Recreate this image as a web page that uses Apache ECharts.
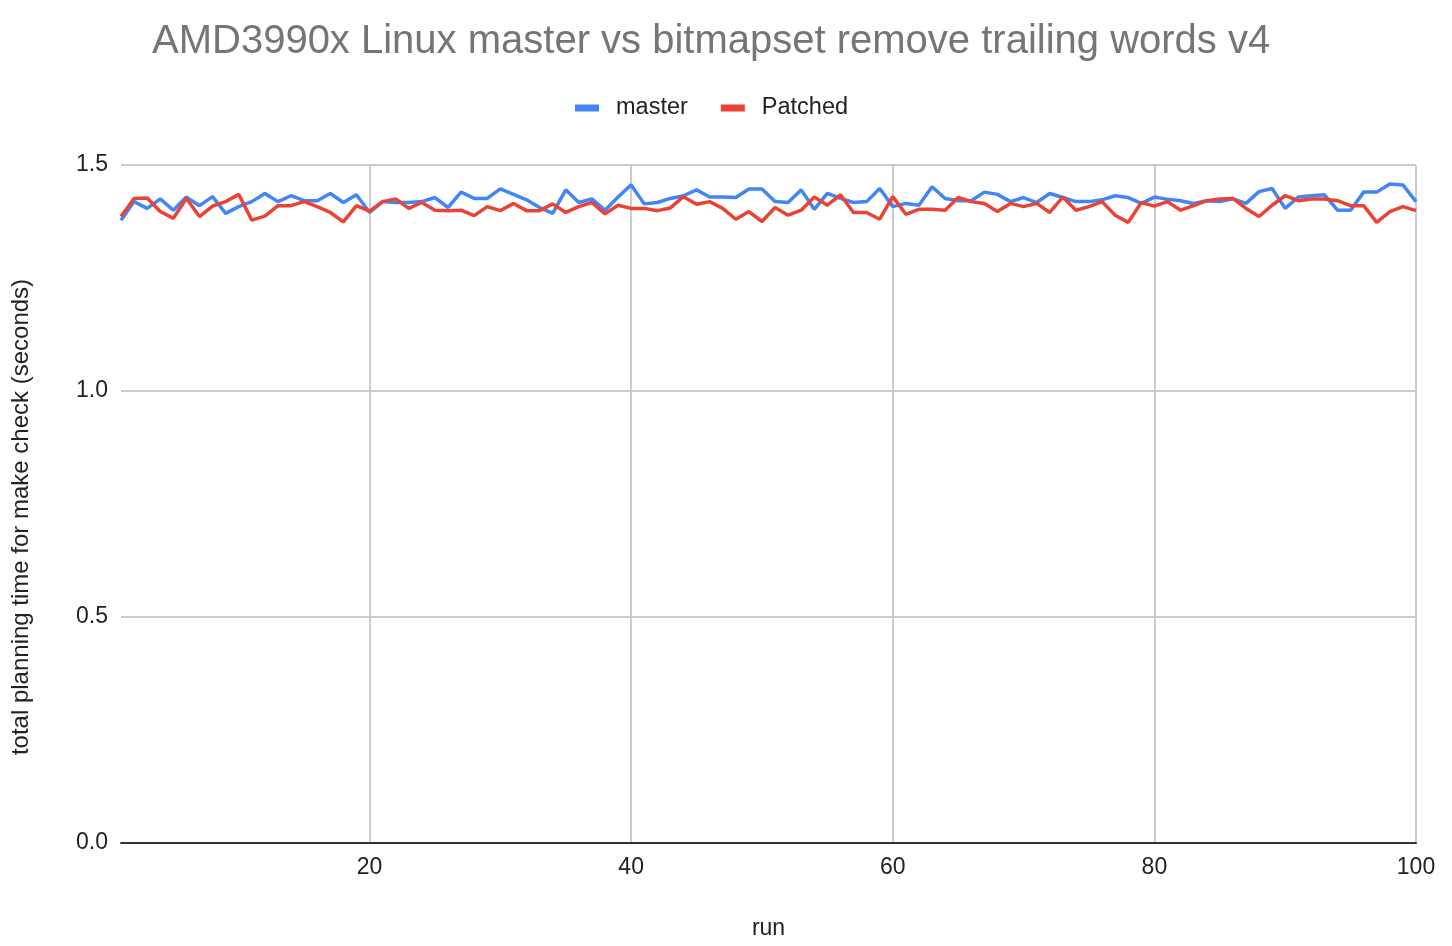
<!DOCTYPE html>
<html>
<head>
<meta charset="utf-8">
<script src="https://cdn.jsdelivr.net/npm/echarts@6/dist/echarts.min.js"></script>
<style>
html,body{margin:0;padding:0;background:#fff;}
#chart{width:1452px;height:946px;}
</style>
</head>
<body>
<div id="chart"></div>
<script>
const titleText = 'AMD3990x Linux master vs bitmapset remove trailing words v4';
const seriesNames = ['master', 'Patched'];
const runs = [];
for (let i = 1; i <= 100; i++) runs.push(String(i));
const yTicks = [0, 0.5, 1.0, 1.5];

const master = [
  1.378, 1.419, 1.404, 1.425, 1.400, 1.429, 1.410, 1.430, 1.393, 1.408,
  1.419, 1.437, 1.419, 1.432, 1.421, 1.421, 1.437, 1.417, 1.434, 1.395,
  1.419, 1.417, 1.417, 1.419, 1.428, 1.406, 1.440, 1.426, 1.426, 1.447,
  1.435, 1.423, 1.406, 1.393, 1.445, 1.417, 1.425, 1.400, 1.429, 1.456,
  1.414, 1.417, 1.426, 1.432, 1.445, 1.429, 1.429, 1.428, 1.447, 1.447,
  1.419, 1.417, 1.445, 1.402, 1.437, 1.426, 1.417, 1.419, 1.448, 1.408,
  1.415, 1.411, 1.452, 1.426, 1.421, 1.421, 1.440, 1.435, 1.419, 1.428,
  1.417, 1.437, 1.428, 1.419, 1.419, 1.423, 1.432, 1.428, 1.415, 1.429,
  1.424, 1.421, 1.415, 1.421, 1.419, 1.425, 1.415, 1.441, 1.448, 1.404,
  1.429, 1.432, 1.434, 1.400, 1.400, 1.440, 1.440, 1.458, 1.456, 1.419
];
const patched = [
  1.386, 1.426, 1.427, 1.397, 1.382, 1.426, 1.386, 1.409, 1.419, 1.435,
  1.378, 1.387, 1.410, 1.410, 1.419, 1.408, 1.395, 1.374, 1.410, 1.398,
  1.419, 1.425, 1.404, 1.417, 1.400, 1.399, 1.400, 1.388, 1.408, 1.399,
  1.415, 1.399, 1.399, 1.414, 1.395, 1.408, 1.417, 1.392, 1.411, 1.404,
  1.404, 1.399, 1.405, 1.430, 1.413, 1.419, 1.404, 1.380, 1.397, 1.375,
  1.406, 1.389, 1.400, 1.429, 1.411, 1.434, 1.395, 1.395, 1.380, 1.430,
  1.391, 1.402, 1.402, 1.400, 1.428, 1.419, 1.415, 1.397, 1.415, 1.408,
  1.415, 1.395, 1.429, 1.400, 1.408, 1.419, 1.389, 1.373, 1.417, 1.409,
  1.419, 1.400, 1.410, 1.421, 1.425, 1.426, 1.404, 1.386, 1.411, 1.432,
  1.421, 1.425, 1.425, 1.421, 1.410, 1.410, 1.373, 1.397, 1.408, 1.399
];

const FONT = '"Liberation Sans", Arial, sans-serif';
const chart = echarts.init(document.getElementById('chart'), null, {renderer: 'canvas'});
chart.setOption({
  animation: false,
  backgroundColor: '#ffffff',
  textStyle: {fontFamily: FONT},
  title: {
    text: titleText,
    left: 152,
    top: 22,
    padding: 0,
    textStyle: {fontFamily: FONT, fontSize: 40, fontWeight: 'normal', color: '#757575'}
  },
  legend: {
    data: seriesNames,
    left: 575,
    top: 96,
    padding: 0,
    icon: 'rect',
    itemWidth: 24,
    itemHeight: 7,
    itemGap: 33,
    textStyle: {fontFamily: FONT, fontSize: 23.5, color: '#222222', padding: [0, 0, 0, 12]}
  },
  grid: {left: 121, right: 36, top: 165, bottom: 103, containLabel: false},
  xAxis: {
    type: 'category',
    data: runs,
    boundaryGap: false,
    name: 'run',
    nameLocation: 'middle',
    nameGap: 74,
    nameTextStyle: {fontFamily: FONT, fontSize: 23, color: '#222222'},
    axisLine: {show: true, lineStyle: {color: '#333333', width: 2}},
    axisTick: {show: false},
    axisLabel: {
      interval: function (idx, val) { return Number(val) % 20 === 0; },
      margin: 13,
      fontFamily: FONT, fontSize: 23, color: '#222222'
    },
    splitLine: {
      show: true,
      interval: function (idx, val) { return Number(val) % 20 === 0; },
      lineStyle: {color: '#cccccc', width: 2}
    }
  },
  yAxis: {
    type: 'value',
    min: yTicks[0],
    max: yTicks[yTicks.length - 1],
    interval: 0.5,
    name: 'total planning time for make check (seconds)',
    nameLocation: 'middle',
    nameGap: 88,
    nameTextStyle: {fontFamily: FONT, fontSize: 24, color: '#222222', padding: [0, 26, 0, 0]},
    axisLine: {show: false},
    axisTick: {show: false},
    axisLabel: {
      margin: 13,
      fontFamily: FONT, fontSize: 23, color: '#222222',
      formatter: function (v) { return v.toFixed(1); }
    },
    splitLine: {show: true, lineStyle: {color: '#cccccc', width: 2}}
  },
  series: [
    {
      name: seriesNames[0], type: 'line', data: master,
      showSymbol: false, symbol: 'none',
      itemStyle: {color: '#4285F4'},
      lineStyle: {color: '#4285F4', width: 3.5}
    },
    {
      name: seriesNames[1], type: 'line', data: patched,
      showSymbol: false, symbol: 'none',
      itemStyle: {color: '#EA4335'},
      lineStyle: {color: '#EA4335', width: 3.5}
    }
  ]
});
</script>
</body>
</html>
